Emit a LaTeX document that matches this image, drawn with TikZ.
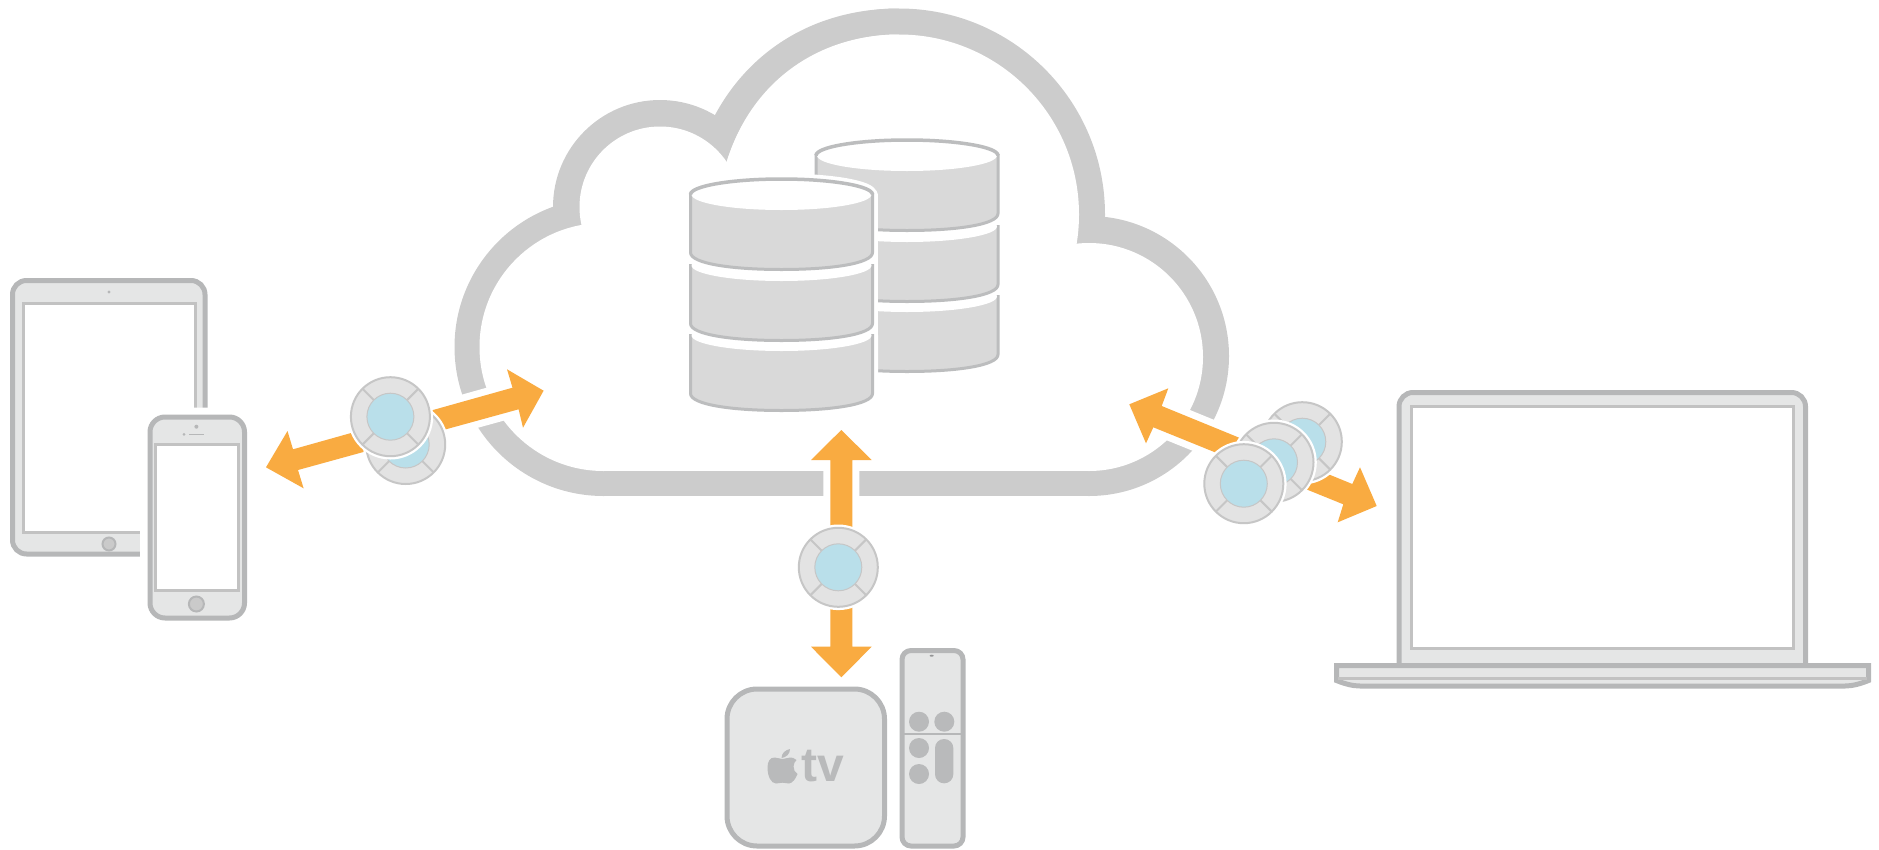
\documentclass[tikz,border=0pt]{standalone}
\usepackage{fontspec}
\setmainfont{Liberation Sans}
\definecolor{cloudc}{HTML}{CCCCCC}
\definecolor{arrowc}{HTML}{F9AB41}
\definecolor{devfill}{HTML}{E5E6E6}
\definecolor{devline}{HTML}{B6B7B8}
\definecolor{scrline}{HTML}{C2C2C2}
\definecolor{dbfill}{HTML}{D9D9D9}
\definecolor{dbline}{HTML}{BCBDBE}
\definecolor{puckfill}{HTML}{E3E3E3}
\definecolor{puckline}{HTML}{C6C6C6}
\definecolor{puckblue}{HTML}{B9DFEA}
\definecolor{btn}{HTML}{B9BABB}
\tikzset{
  device/.style={fill=devfill,draw=devline,line width=5pt},
  screen/.style={fill=white,draw=scrline,line width=3pt},
  homebtn/.style={fill=devfill!88!black,draw=devline,line width=2pt},
  halo/.style={draw=white,fill=white,line width=14pt,line join=round},
  blockarrow/.style={fill=arrowc},
  dblayer/.style={fill=dbfill,draw=dbline,line width=3pt},
  dblens/.style={fill=white},
  dbhalo/.style={fill=white,draw=white,line width=11pt,line join=round},
  btnfill/.style={fill=btn},
}
\newcommand{\dbbody}[3]{%
  \path[#3] (#1-91,#2) -- (#1-91,#2+58)
    .. controls (#1-91,#2+69) and (#1-50,#2+75) .. (#1,#2+75)
    .. controls (#1+50,#2+75) and (#1+91,#2+69) .. (#1+91,#2+58)
    -- (#1+91,#2) -- cycle;}
\newcommand{\dblenspath}[3]{%
  \path[#3] (#1-90,#2) .. controls (#1-90,#2-8.5) and (#1-50,#2-15.5) .. (#1,#2-15.5)
    .. controls (#1+50,#2-15.5) and (#1+90,#2-8.5) .. (#1+90,#2)
    .. controls (#1+90,#2+8.5) and (#1+50,#2+15.5) .. (#1,#2+15.5)
    .. controls (#1-50,#2+15.5) and (#1-90,#2+8.5) .. (#1-90,#2) -- cycle;}
\newcommand{\dbrim}[2]{%
  \draw[dbline,line width=3.5pt] (#1-91,#2) .. controls (#1-91,#2-8.5) and (#1-50,#2-15.5) .. (#1,#2-15.5)
    .. controls (#1+50,#2-15.5) and (#1+91,#2-8.5) .. (#1+91,#2);}
\newcommand{\dbstack}[2]{%
  \dbbody{#1}{#2+141}{dblayer}\dblenspath{#1}{#2+141}{dblens}
  \dbbody{#1}{#2+71}{dblayer}\dblenspath{#1}{#2+71}{dblens}
  \dbbody{#1}{#2}{dblayer}\dblenspath{#1}{#2}{dblens}\dbrim{#1}{#2}}
\newcommand{\puck}[2]{%
  \begin{scope}[shift={(#1,#2)}]
    \fill[white] (0,0) circle (42.8);
    \draw[fill=puckfill,draw=puckline,line width=2pt] (0,0) circle (39.5);
    \foreach \a in {45,135,225,315}
      \draw[puckline,line width=2pt] (\a:23) -- (\a:39);
    \draw[fill=puckblue,draw=puckline,line width=1pt] (0,0) circle (23.5);
  \end{scope}}
\begin{document}
\begin{tikzpicture}[x=1pt,y=-1pt]
\useasboundingbox (0,0) rectangle (1879,849);
% cloud ring: union of outer shapes, then union of inner shapes
\foreach \cx/\cy/\r in {899/214.5/206,660/207/107,603.5/347/149,1089/356/140}
  \fill[cloudc] (\cx,\cy) circle (\r);
\fill[cloudc] (603.5,258) rectangle (1089,496);
\fill[cloudc] (715,115) .. controls (750,50) and (815,8.5) .. (899,8.5)
  -- (899,214) -- (715,214) -- cycle;
\foreach \cx/\cy/\r in {899/214.5/180,660/207/80.5,603.5/347/124,1089/357/114}
  \fill[white] (\cx,\cy) circle (\r);
\fill[white] (603.5,258) rectangle (1089,471);
\fill[white] (726.7,161.7) .. controls (752,80) and (820,34.5) .. (899,34.5)
  -- (899,214) -- (726.7,214) -- cycle;
% databases
\dbstack{907}{155.5}
\dblenspath{781.5}{194.5}{dbhalo}
\path[dbhalo] (690.5,194.5) rectangle (872.5,360);
\dbbody{781.5}{335.5}{dbhalo}
\dbstack{781.5}{194.5}
% block arrows
\path[halo] (266,467.3) -- (287.5,431) -- (293,449.3) -- (512.5,387.7) -- (507,369.3) -- (543.6,390.7)
  -- (523,427.7) -- (518.6,409.3) -- (298,470) -- (303.6,488.3) -- cycle;
\path[blockarrow] (266,467.3) -- (287.5,431) -- (293,449.3) -- (512.5,387.7) -- (507,369.3) -- (543.6,390.7)
  -- (523,427.7) -- (518.6,409.3) -- (298,470) -- (303.6,488.3) -- cycle;
\path[halo] (841.3,430) -- (871.7,460) -- (852.3,460) -- (852.3,646.7) -- (871.7,646.7) -- (841.3,677.3)
  -- (811,646.7) -- (830.3,646.7) -- (830.3,460) -- (811,460) -- cycle;
\path[blockarrow] (841.3,430) -- (871.7,460) -- (852.3,460) -- (852.3,646.7) -- (871.7,646.7) -- (841.3,677.3)
  -- (811,646.7) -- (830.3,646.7) -- (830.3,460) -- (811,460) -- cycle;
\path[halo] (1129.3,404.3) -- (1168.3,388.3) -- (1161.7,406) -- (1352.3,484) -- (1360,467.3) -- (1376.7,506)
  -- (1337.7,522.3) -- (1343.3,504.3) -- (1153.3,427.3) -- (1146,443.3) -- cycle;
\path[blockarrow] (1129.3,404.3) -- (1168.3,388.3) -- (1161.7,406) -- (1352.3,484) -- (1360,467.3) -- (1376.7,506)
  -- (1337.7,522.3) -- (1343.3,504.3) -- (1153.3,427.3) -- (1146,443.3) -- cycle;
% pucks
\puck{405.7}{444.5}
\puck{390.4}{416.7}
\puck{838.3}{567.3}
\puck{1302.3}{441.7}
\puck{1274}{462.3}
\puck{1243.8}{483.7}
% tablet
\draw[device,rounded corners=14pt] (12.5,280.5) rectangle (205,554);
\draw[screen] (23,303.5) rectangle (195,532);
\draw[homebtn] (109,544) circle (6.5);
\fill[devline] (109,292) circle (1.7);
% phone
\fill[white,rounded corners=20pt] (140,407.7) rectangle (254,628);
\draw[device,rounded corners=15pt] (150,417) rectangle (244.5,618);
\draw[screen] (155.5,444) rectangle (238,590.7);
\draw[homebtn] (196.4,604) circle (7.5);
\fill[devline] (196.4,426.7) circle (2);
\draw[devline,line width=1.6pt] (189,434.3) -- (204,434.3);
\fill[devline] (184,434.3) circle (1.5);
% apple tv box
\draw[device,rounded corners=30pt] (727,689) rectangle (884.5,846);
\fill[btn] (782.5,759) .. controls (780,759) and (777.5,757.5) .. (774.5,757.5)
  .. controls (770,757.5) and (767.5,761.5) .. (767.5,767.5)
  .. controls (767.5,776) and (771,783.5) .. (776,783.5)
  .. controls (778.5,783.5) and (780,782.7) .. (782.5,782.7)
  .. controls (785,782.7) and (786.5,783.5) .. (789,783.5)
  .. controls (792.5,783.5) and (796,778) .. (797.5,774)
  .. controls (795,772.5) and (793.5,769.5) .. (793.5,766.5)
  .. controls (793.5,763.5) and (795,761.5) .. (796.5,760)
  .. controls (794.5,758) and (792,757.5) .. (790.5,757.5)
  .. controls (787.5,757.5) and (785,759) .. (782.5,759) -- cycle;
\fill[btn] (781.5,758) .. controls (781.5,753.5) and (785,750) .. (790,749)
  .. controls (790,754) and (786,757.5) .. (781.5,758) -- cycle;
\node[anchor=base west,inner sep=0pt,text=btn] (tvlabel) at (801,781.7)
  {\fontsize{48pt}{48pt}\selectfont\bfseries tv};
% remote
\draw[device,rounded corners=9pt] (902,650.5) rectangle (963,846);
\draw[devline,line width=2pt] (902,734.3) -- (963,734.3);
\fill[btnfill] (919,721.7) circle (10) (944.3,721.7) circle (10) (919,748) circle (10) (919,774) circle (10);
\fill[btnfill,rounded corners=9pt] (935,739) rectangle (953.3,783.3);
\fill[btn!80!black] (931.7,655.7) ellipse (2 and 1);
% laptop
\draw[device,rounded corners=14pt] (1399,392.5) rectangle (1805.5,680);
\draw[screen] (1411,406) rectangle (1793,648);
\draw[device,line join=miter] (1336.5,665.5) -- (1868.5,665.5) -- (1868.5,680.5)
  .. controls (1860,684) and (1852,686) .. (1845,686) -- (1360,686)
  .. controls (1353,686) and (1345,684) .. (1336.5,680.5) -- cycle;
\draw[scrline,line width=2.5pt] (1338,678.5) -- (1867,678.5);
\end{tikzpicture}
\end{document}
